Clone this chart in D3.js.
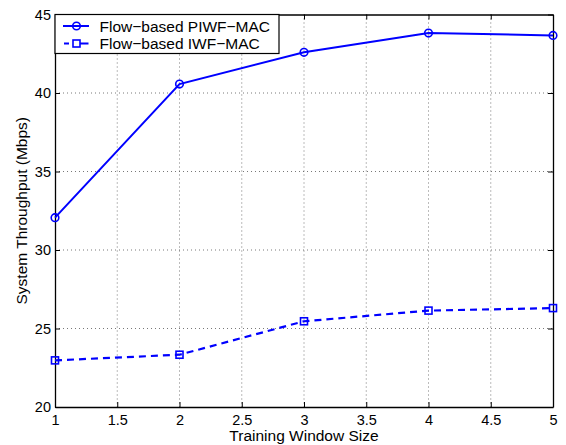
<!DOCTYPE html>
<html><head><meta charset="utf-8">
<script src="https://cdn.jsdelivr.net/npm/d3@7"></script>
<style>body{margin:0;background:#fff}svg{display:block}text{font-family:"Liberation Sans",Arial,sans-serif;}</style>
</head><body><svg id="c" width="566" height="445"></svg>
<script>
const xValues = [1, 2, 3, 4, 5];
const piwf = [32.06, 40.57, 42.59, 43.82, 43.67];
const iwf = [22.97, 23.33, 25.46, 26.14, 26.3];
const xTicks = [1, 1.5, 2, 2.5, 3, 3.5, 4, 4.5, 5];
const yTicks = [20, 25, 30, 35, 40, 45];
const seriesNames = ["Flow\u2212based PIWF\u2212MAC", "Flow\u2212based IWF\u2212MAC"];

const L = 55, R = 553, T = 14.5, B = 407;
const svg = d3.select("#c");
const x = d3.scaleLinear().domain([1, 5]).range([L, R]);
const y = d3.scaleLinear().domain([20, 45]).range([B, T]);
const fmt = d => String(d);

// grid
const grid = svg.append("g").attr("stroke", "#555").attr("stroke-width", 0.8).attr("stroke-dasharray", "1,3");
xTicks.filter(d => d > 1 && d < 5).forEach(d => grid.append("line").attr("x1", x(d)).attr("x2", x(d)).attr("y1", T).attr("y2", B));
yTicks.filter(d => d > 20 && d < 45).forEach(d => grid.append("line").attr("x1", L).attr("x2", R).attr("y1", y(d)).attr("y2", y(d)));

// axes
const ax = svg.append("g");
ax.append("g").attr("transform", `translate(0,${B})`).call(d3.axisBottom(x).tickValues(xTicks).tickFormat(fmt).tickSizeInner(-5).tickSizeOuter(0).tickPadding(8));
ax.append("g").attr("transform", `translate(0,${T})`).call(d3.axisTop(x).tickValues(xTicks).tickFormat("").tickSizeInner(-5).tickSizeOuter(0));
ax.append("g").attr("transform", `translate(${L},0)`).call(d3.axisLeft(y).tickValues(yTicks).tickFormat(fmt).tickSizeInner(-5).tickSizeOuter(0).tickPadding(4));
ax.append("g").attr("transform", `translate(${R},0)`).call(d3.axisRight(y).tickValues(yTicks).tickFormat("").tickSizeInner(-5).tickSizeOuter(0));
ax.selectAll("path.domain").attr("stroke", "#000").attr("stroke-width", 1.3);
ax.selectAll(".tick line").attr("stroke", "#000").attr("stroke-width", 1);
ax.selectAll("g").attr("font-size", null).attr("font-family", null);
ax.selectAll(".tick text").attr("font-size", 14.5).attr("fill", "#000").style("font-size", "14.5px").style("font-family", "Liberation Sans, Arial, sans-serif");

// lines
const line = d3.line().x((d, i) => x(xValues[i])).y(d => y(d));
svg.append("path").datum(piwf).attr("d", line).attr("fill", "none").attr("stroke", "#0000ff").attr("stroke-width", 2);
svg.append("path").datum(iwf).attr("d", line).attr("fill", "none").attr("stroke", "#0000ff").attr("stroke-width", 2.2).attr("stroke-dasharray", "7,5");
svg.append("g").selectAll("circle").data(piwf).join("circle")
  .attr("cx", (d, i) => x(xValues[i])).attr("cy", d => y(d)).attr("r", 3.8)
  .attr("fill", "none").attr("stroke", "#0000ff").attr("stroke-width", 1.6);
svg.append("g").selectAll("rect").data(iwf).join("rect")
  .attr("x", (d, i) => x(xValues[i]) - 3.5).attr("y", d => y(d) - 3.5).attr("width", 7).attr("height", 7)
  .attr("fill", "none").attr("stroke", "#0000ff").attr("stroke-width", 1.6);

// legend
const lg = svg.append("g");
lg.append("rect").attr("x", L).attr("y", T).attr("width", 224).attr("height", 39).attr("fill", "#fff").attr("stroke", "#000").attr("stroke-width", 1.2);
const rows = [T + 11.5, T + 29];
lg.append("line").attr("x1", 63).attr("x2", 89).attr("y1", rows[0]).attr("y2", rows[0]).attr("stroke", "#0000ff").attr("stroke-width", 2);
lg.append("circle").attr("cx", 76.5).attr("cy", rows[0]).attr("r", 3.8).attr("fill", "none").attr("stroke", "#0000ff").attr("stroke-width", 1.6);
lg.append("line").attr("x1", 64).attr("x2", 89).attr("y1", rows[1]).attr("y2", rows[1]).attr("stroke", "#0000ff").attr("stroke-width", 2.2).attr("stroke-dasharray", "5,5.5,14");
lg.append("rect").attr("x", 73).attr("y", rows[1] - 3.5).attr("width", 7).attr("height", 7).attr("fill", "#fff").attr("stroke", "#0000ff").attr("stroke-width", 1.6);
seriesNames.forEach((n, i) => lg.append("text").attr("x", 99.5).attr("y", rows[i]).attr("dy", "0.36em").style("font-size", "15.5px").text(n));

// titles
svg.append("text").attr("x", (L + R) / 2).attr("y", 441).attr("text-anchor", "middle").style("font-size", "15.5px").text("Training Window Size");
svg.append("text").attr("transform", `translate(26.5,${(T + B) / 2}) rotate(-90)`).attr("text-anchor", "middle").style("font-size", "15.5px").text("System Throughput (Mbps)");
</script></body></html>
